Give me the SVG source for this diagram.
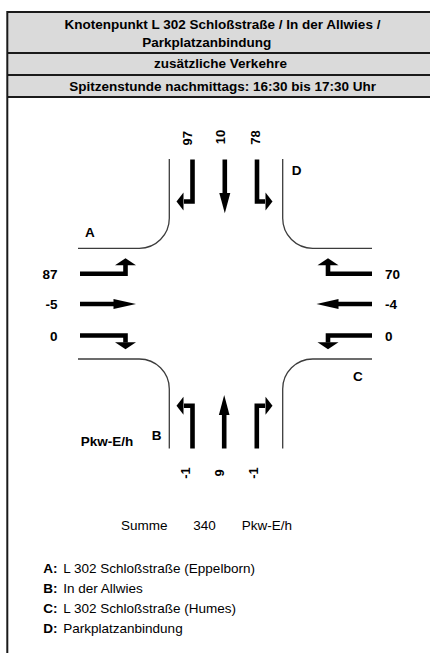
<svg xmlns="http://www.w3.org/2000/svg" width="430" height="653" viewBox="0 0 430 653">
  <style>
    text { font-family: "Liberation Sans", Arial, sans-serif; fill: #000; }
    .hd { font-size: 13.5px; font-weight: bold; text-anchor: middle; }
    .lbl { font-size: 13.5px; font-weight: bold; }
    .num { font-size: 13.5px; font-weight: bold; }
    .vnum { font-size: 13px; font-weight: bold; text-anchor: middle; }
    .reg { font-size: 13.5px; }
    .rule { stroke: #1a1a1a; stroke-width: 2; fill: none; }
    .curb { stroke: #3c3c3c; stroke-width: 1.3; fill: none; }
    .stem { stroke: #000; stroke-width: 4.6; fill: none; stroke-linejoin: miter; }
    .head { fill: #000; }
  </style>

  <!-- title block -->
  <g id="header">
    <rect x="7" y="12" width="423" height="85" fill="#dadada"/>
    <path class="rule" d="M7,12 H430 M7,53 H430 M7,75 H430 M7,97 H430"/>
    <path class="rule" d="M7.3,11 V653"/>
    <text class="hd" x="222.5" y="29.3">Knotenpunkt L 302 Schloßstraße / In der Allwies /</text>
    <text class="hd" x="206.7" y="46.7">Parkplatzanbindung</text>
    <text class="hd" x="220.5" y="68.3">zusätzliche Verkehre</text>
    <text class="hd" x="222.6" y="90.7">Spitzenstunde nachmittags: 16:30 bis 17:30 Uhr</text>
  </g>

  <!-- kerb lines of the junction -->
  <g id="curbs">
    <path class="curb" d="M169.3,159 V218.3 A30,30 0 0 1 139.3,248.3 H78"/>
    <path class="curb" d="M282.7,159 V218.3 A30,30 0 0 0 312.7,248.3 H372"/>
    <path class="curb" d="M78,359 H139.3 A30,30 0 0 1 169.3,389 V448.5"/>
    <path class="curb" d="M372,359 H312.7 A30,30 0 0 0 282.7,389 V448.5"/>
  </g>

  <!-- arm D (top) -->
  <g id="arm-D">
    <path class="stem" d="M192.5,159.5 V201.5 H184"/>
    <polygon class="head" points="183.5,192.5 183.5,210.5 176.5,201.5"/>
    <path class="stem" d="M224.8,159.5 V194"/>
    <polygon class="head" points="219.3,193 230.3,193 224.8,213.3"/>
    <path class="stem" d="M257,159.5 V201.5 H265"/>
    <polygon class="head" points="265.5,192.5 265.5,210.5 272.5,201.5"/>
    <text class="vnum" transform="translate(191.5,138.3) rotate(-90)">97</text>
    <text class="vnum" transform="translate(225,137) rotate(-90)">10</text>
    <text class="vnum" transform="translate(259.5,137.5) rotate(-90)">78</text>
    <text class="lbl" x="291.7" y="175">D</text>
  </g>

  <!-- arm B (bottom) -->
  <g id="arm-B">
    <path class="stem" d="M192.5,448.5 V405.8 H184"/>
    <polygon class="head" points="183.5,396.8 183.5,414.8 176.5,405.8"/>
    <path class="stem" d="M224.2,448.5 V414"/>
    <polygon class="head" points="218.9,415 229.5,415 224.2,395"/>
    <path class="stem" d="M256.8,448.5 V405.8 H265"/>
    <polygon class="head" points="265.5,396.8 265.5,414.8 272.5,405.8"/>
    <text class="vnum" transform="translate(189.5,473) rotate(-90)">-1</text>
    <text class="vnum" transform="translate(224,473) rotate(-90)">9</text>
    <text class="vnum" transform="translate(257.5,473) rotate(-90)">-1</text>
    <text class="lbl" x="151.7" y="440">B</text>
    <text class="lbl" x="80.7" y="445.5">Pkw-E/h</text>
  </g>

  <!-- arm A (left) -->
  <g id="arm-A">
    <path class="stem" d="M80,273.8 H125.5 V264.5"/>
    <polygon class="head" points="115,265.2 136,265.2 125.5,258.3"/>
    <path class="stem" d="M80,304 H114"/>
    <polygon class="head" points="113.5,299 113.5,309 136,304"/>
    <path class="stem" d="M80,335.5 H125.5 V342.5"/>
    <polygon class="head" points="115,342.2 136,342.2 125.5,349.3"/>
    <text class="num" x="57.5" y="279.3" text-anchor="end">87</text>
    <text class="num" x="57.5" y="309.3" text-anchor="end">-5</text>
    <text class="num" x="57.5" y="341" text-anchor="end">0</text>
    <text class="lbl" x="85" y="236.7">A</text>
  </g>

  <!-- arm C (right) -->
  <g id="arm-C">
    <path class="stem" d="M372,273.8 H328 V264.5"/>
    <polygon class="head" points="317.5,265.2 338.5,265.2 328,258.3"/>
    <path class="stem" d="M372,304 H338"/>
    <polygon class="head" points="338.5,299 338.5,309 316.5,304"/>
    <path class="stem" d="M372,335.5 H328 V342.5"/>
    <polygon class="head" points="317.5,342.2 338.5,342.2 328,349.3"/>
    <text class="num" x="385" y="279.3">70</text>
    <text class="num" x="385" y="309.3">-4</text>
    <text class="num" x="385" y="341">0</text>
    <text class="lbl" x="353" y="380.7">C</text>
  </g>

  <!-- total and legend -->
  <g id="legend">
    <text class="reg" x="121" y="530">Summe</text>
    <text class="reg" x="193.3" y="530">340</text>
    <text class="reg" x="241.7" y="530">Pkw-E/h</text>
    <text class="lbl" x="43.3" y="573.3">A:</text>
    <text class="reg" x="63.3" y="573.3">L 302 Schloßstraße (Eppelborn)</text>
    <text class="lbl" x="43.3" y="593">B:</text>
    <text class="reg" x="63.3" y="593">In der Allwies</text>
    <text class="lbl" x="43.3" y="613.3">C:</text>
    <text class="reg" x="63.3" y="613.3">L 302 Schloßstraße (Humes)</text>
    <text class="lbl" x="43.3" y="633.3">D:</text>
    <text class="reg" x="63.3" y="633.3">Parkplatzanbindung</text>
  </g>
</svg>
